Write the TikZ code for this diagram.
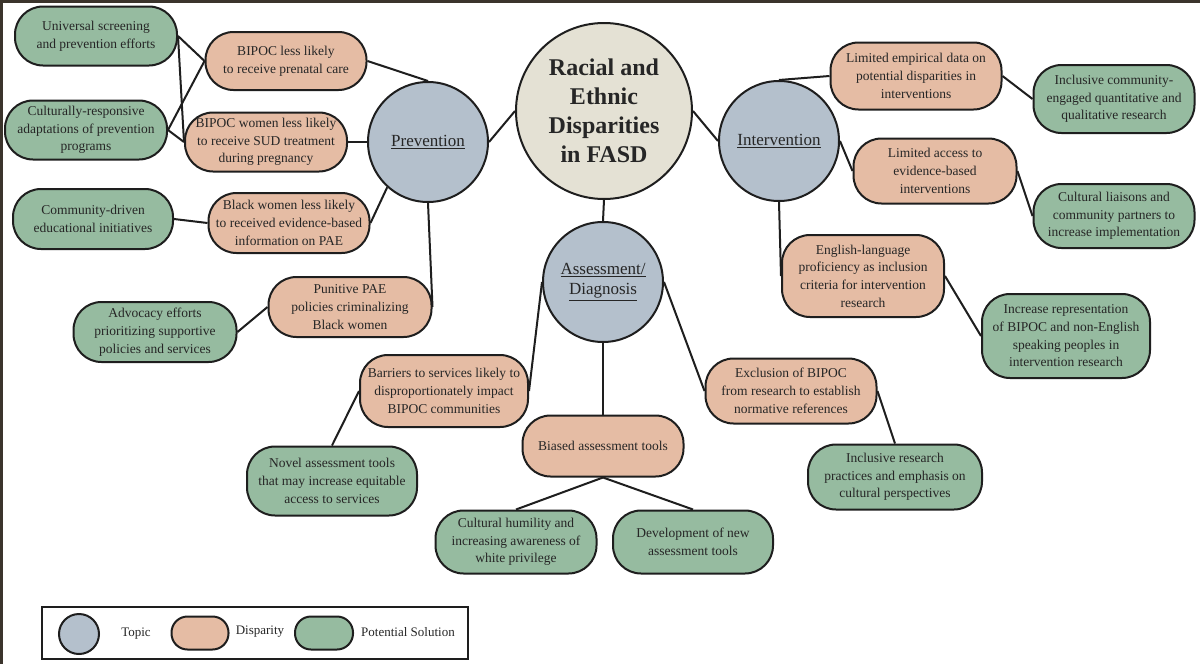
\documentclass[tikz,border=0pt]{standalone}
\usepackage{fontspec}
\setmainfont{Liberation Serif}
\usetikzlibrary{backgrounds}
\definecolor{linec}{HTML}{1E1E1E}
\definecolor{txtc}{HTML}{262626}
\definecolor{topicc}{HTML}{B4C0CC}
\definecolor{centerc}{HTML}{E4E1D4}
\definecolor{dispc}{HTML}{E5BCA4}
\definecolor{solc}{HTML}{96BBA0}
\definecolor{framec}{HTML}{3B342C}
\tikzset{
  topic/.style={circle, draw=linec, line width=2pt, fill=topicc, minimum size=120pt, inner sep=0pt, align=center, text=txtc, font=\fontsize{17}{20}\selectfont},
  pillbase/.style={rectangle, rounded corners=28pt, draw=linec, line width=2pt, inner sep=0pt, align=center, text=txtc, font=\fontsize{13.5}{17.7}\selectfont},
  disp/.style={pillbase, fill=dispc},
  sol/.style={pillbase, fill=solc},
  conn/.style={draw=linec, line width=2pt},
  legtext/.style={text=txtc, font=\fontsize{13}{16}\selectfont, inner sep=0pt}
}
\begin{document}
\begin{tikzpicture}[x=1pt,y=-1pt]
\useasboundingbox (0,0) rectangle (1200,664);

% central
\node[circle, draw=linec, line width=2pt, fill=centerc, minimum size=176pt, inner sep=0pt, align=center, text=txtc, font=\fontsize{24}{29}\selectfont\bfseries] (c) at (604,111) {Racial and\\Ethnic\\Disparities\\in FASD};

% topics
\node[topic] (prev) at (428,142) {\underline{Prevention}};
\node[topic] (inter) at (779,141) {\underline{Intervention}};
\node[topic] (assess) at (603,282) {\underline{Assessment/}\\\underline{Diagnosis}};

% prevention disparities
\node[disp, minimum width=161pt, minimum height=58pt] (p1) at (286,61) {BIPOC less likely\\to receive prenatal care};
\node[disp, minimum width=162pt, minimum height=59pt] (p2) at (266,142) {BIPOC women less likely\\to receive SUD treatment\\during pregnancy};
\node[disp, minimum width=161pt, minimum height=60pt] (p3) at (289,223) {Black women less likely\\to received evidence-based\\information on PAE};
\node[disp, minimum width=163pt, minimum height=60pt] (p4) at (350,307) {Punitive PAE\\policies criminalizing\\Black women};

% prevention solutions
\node[sol, minimum width=162pt, minimum height=59pt] (s1) at (96,36) {Universal screening\\and prevention efforts};
\node[sol, minimum width=162pt, minimum height=59pt] (s2) at (86,130) {Culturally-responsive\\adaptations of prevention\\programs};
\node[sol, minimum width=160pt, minimum height=60pt] (s3) at (93,219) {Community-driven\\educational initiatives};
\node[sol, minimum width=163pt, minimum height=60pt] (s4) at (155,332) {Advocacy efforts\\prioritizing supportive\\policies and services};

% intervention disparities
\node[disp, minimum width=171pt, minimum height=67pt] (i1) at (916,76) {Limited empirical data on\\potential disparities in\\interventions};
\node[disp, minimum width=163pt, minimum height=65pt] (i2) at (935,171) {Limited access to\\evidence-based\\interventions};
\node[disp, minimum width=162pt, minimum height=82pt] (i3) at (863,276) {English-language\\proficiency as inclusion\\criteria for intervention\\research};

% intervention solutions
\node[sol, minimum width=161pt, minimum height=68pt] (is1) at (1114,99) {Inclusive community-\\engaged quantitative and\\qualitative research};
\node[sol, minimum width=161pt, minimum height=64pt] (is2) at (1114,216) {Cultural liaisons and\\community partners to\\increase implementation};
\node[sol, minimum width=168pt, minimum height=84pt] (is3) at (1066,336) {Increase representation\\of BIPOC and non-English\\speaking peoples in\\intervention research};

% assessment disparities
\node[disp, minimum width=168pt, minimum height=72pt] (a1) at (444,391) {Barriers to services likely to\\disproportionately impact\\BIPOC communities};
\node[disp, minimum width=161pt, minimum height=61pt] (a2) at (603,446) {Biased assessment tools};
\node[disp, minimum width=171pt, minimum height=65pt] (a3) at (791,391) {Exclusion of BIPOC\\from research to establish\\normative references};

% assessment solutions
\node[sol, minimum width=170pt, minimum height=69pt] (as1) at (332,481) {Novel assessment tools\\that may increase equitable\\access to services};
\node[sol, minimum width=161pt, minimum height=63pt] (as2) at (516,542) {Cultural humility and\\increasing awareness of\\white privilege};
\node[sol, minimum width=160pt, minimum height=63pt] (as3) at (693,542) {Development of new\\assessment tools};
\node[sol, minimum width=174pt, minimum height=65pt] (as4) at (895,477) {Inclusive research\\practices and emphasis on\\cultural perspectives};

% legend
\node[draw=linec, line width=2pt, fill=white, minimum width=426pt, minimum height=52pt, inner sep=0pt] (leg) at (255,633) {};
\node[topic, minimum size=40pt] (lt) at (79,634) {};
\node[legtext] (ltt) at (136,634) {Topic};
\node[disp, rounded corners=16pt, minimum width=57pt, minimum height=33pt] (ld) at (200,633) {};
\node[legtext] (ldt) at (260,632) {Disparity};
\node[sol, rounded corners=16pt, minimum width=58pt, minimum height=33pt] (ls) at (324,633) {};
\node[legtext] (lst) at (408,632) {Potential Solution};

\begin{scope}[on background layer]
\fill[white] (0,0) rectangle (1200,664);
\fill[framec] (0,0) rectangle (1200,3);
\fill[framec] (0,0) rectangle (2.5,664);
\draw[conn] (c.180) -- (prev.0);
\draw[conn] (c.0) -- (inter.180);
\draw[conn] (c.south) -- (assess.north);
\draw[conn] (p1.east) -- (prev.north);
\draw[conn] (p2.east) -- (prev.west);
\draw[conn] (p3.east) -- (prev.228);
\draw[conn] (prev.south) -- (p4.east);
\draw[conn] (s1.east) -- (p1.west);
\draw[conn] (s1.east) -- (p2.west);
\draw[conn] (s2.east) -- (p1.west);
\draw[conn] (s2.east) -- (p2.west);
\draw[conn] (s3.east) -- (p3.west);
\draw[conn] (s4.east) -- (p4.west);
\draw[conn] (inter.north) -- (i1.west);
\draw[conn] (inter.east) -- (i2.west);
\draw[conn] (inter.south) -- (i3.west);
\draw[conn] (i1.east) -- (is1.west);
\draw[conn] (i2.east) -- (is2.west);
\draw[conn] (i3.east) -- (is3.west);
\draw[conn] (assess.west) -- (a1.east);
\draw[conn] (assess.south) -- (a2.north);
\draw[conn] (assess.east) -- (a3.west);
\draw[conn] (a1.west) -- (as1.north);
\draw[conn] (a2.south) -- (as2.north);
\draw[conn] (a2.south) -- (as3.north);
\draw[conn] (a3.east) -- (as4.north);
\end{scope}
\end{tikzpicture}
\end{document}
